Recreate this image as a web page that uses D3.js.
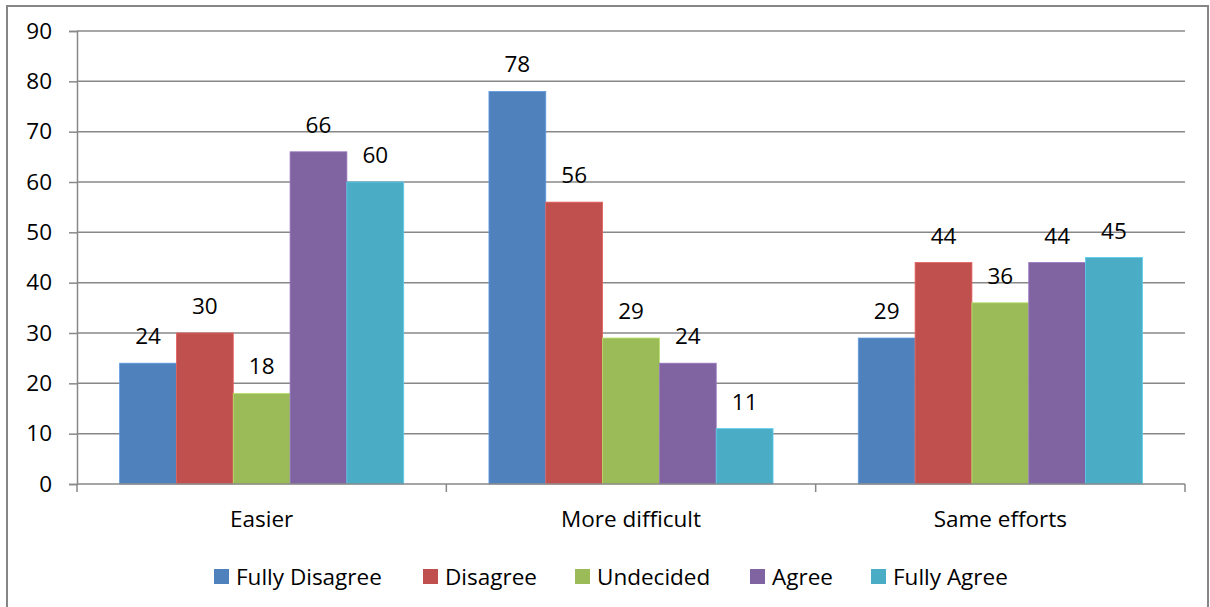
<!DOCTYPE html>
<html><head><meta charset="utf-8">
<script src="https://cdn.jsdelivr.net/npm/d3@7"></script>
<style>body{margin:0;background:#fff}svg{display:block}text{font-family:"Open Sans",Lato,sans-serif;fill:#000}</style>
</head><body>
<svg id="c" width="1210" height="607"></svg>
<script>
const categories = ["Easier", "More difficult", "Same efforts"];
const seriesNames = ["Fully Disagree", "Disagree", "Undecided", "Agree", "Fully Agree"];
const fullyDisagree = [24, 78, 29];
const disagree = [30, 56, 44];
const undecided = [18, 29, 36];
const agree = [66, 24, 44];
const fullyAgree = [60, 11, 45];
const yTicks = [0, 10, 20, 30, 40, 50, 60, 70, 80, 90];
const colors = ["#4f81bd", "#c0504d", "#9bbb59", "#8064a2", "#4bacc6"];
const values = [fullyDisagree, disagree, undecided, agree, fullyAgree];

(function() {
const FONT = "'Open Sans', Lato, sans-serif";
const FS = 22.5;
const svg = d3.select("#c");
svg.append("rect").attr("x", 7).attr("y", 6).attr("width", 1201).attr("height", 620)
  .attr("fill", "#fff").attr("stroke", "#868686").attr("stroke-width", 2);

const pL = 77, pR = 1185, pT = 31, pB = 484;
const x = d3.scaleBand().domain(categories).range([pL, pR]).paddingInner(0).paddingOuter(0);
const x1 = d3.scaleBand().domain(seriesNames).range([0, x.bandwidth()]).paddingOuter(0.75).paddingInner(0);
const y = d3.scaleLinear().domain([0, 90]).range([pB, pT]);

// gridlines
svg.append("g").selectAll("line").data(yTicks.slice(1)).join("line")
  .attr("x1", pL).attr("x2", pR).attr("y1", d => y(d)).attr("y2", d => y(d))
  .attr("stroke", "#888").attr("stroke-width", 1.5);

// bars
const groups = svg.append("g").selectAll("g").data(categories).join("g")
  .attr("transform", d => `translate(${x(d)},0)`);
groups.each(function(cat, ci) {
  const g = d3.select(this);
  seriesNames.forEach((s, si) => {
    const v = values[si][ci];
    g.append("rect").attr("x", x1(s)).attr("width", x1.bandwidth())
      .attr("y", y(v)).attr("height", y(0) - y(v))
      .attr("fill", colors[si]).attr("stroke", d3.color(colors[si]).brighter(0.5)).attr("stroke-width", 0.8);
    g.append("text").attr("x", x1(s) + x1.bandwidth() / 2).attr("y", y(v) - 19)
      .attr("text-anchor", "middle").attr("font-size", FS).text(v);
  });
});

// y axis
const ya = svg.append("g").attr("transform", `translate(${pL},0)`)
  .call(d3.axisLeft(y).tickValues(yTicks).tickSize(8).tickPadding(17));
ya.select(".domain").attr("stroke", "#888").attr("stroke-width", 1.5);
ya.selectAll(".tick line").attr("stroke", "#888").attr("stroke-width", 1.5);
ya.selectAll(".tick text").attr("font-size", FS).attr("font-family", FONT).attr("fill", "#000");

// x axis
const xa = svg.append("g").attr("transform", `translate(0,${pB})`);
xa.append("line").attr("x1", pL).attr("x2", pR).attr("stroke", "#888").attr("stroke-width", 1.5);
const bounds = [pL, ...categories.map(c => x(c) + x.bandwidth())];
xa.selectAll("line.t").data(bounds).join("line").attr("class", "t")
  .attr("x1", d => d).attr("x2", d => d).attr("y1", 0).attr("y2", 8)
  .attr("stroke", "#888").attr("stroke-width", 1.5);
xa.selectAll("text").data(categories).join("text")
  .attr("x", d => x(d) + x.bandwidth() / 2).attr("y", 43)
  .attr("text-anchor", "middle").attr("font-size", FS).text(d => d);

// legend
const legendX = [214, 423, 575, 750, 871];
const lg = svg.append("g").selectAll("g").data(seriesNames).join("g")
  .attr("transform", (d, i) => `translate(${legendX[i]},569)`);
lg.append("rect").attr("width", 15).attr("height", 15).attr("fill", (d, i) => colors[i]);
lg.append("text").attr("x", 22).attr("y", 15.5).attr("font-size", FS).text(d => d);
})();
</script>
</body></html>
